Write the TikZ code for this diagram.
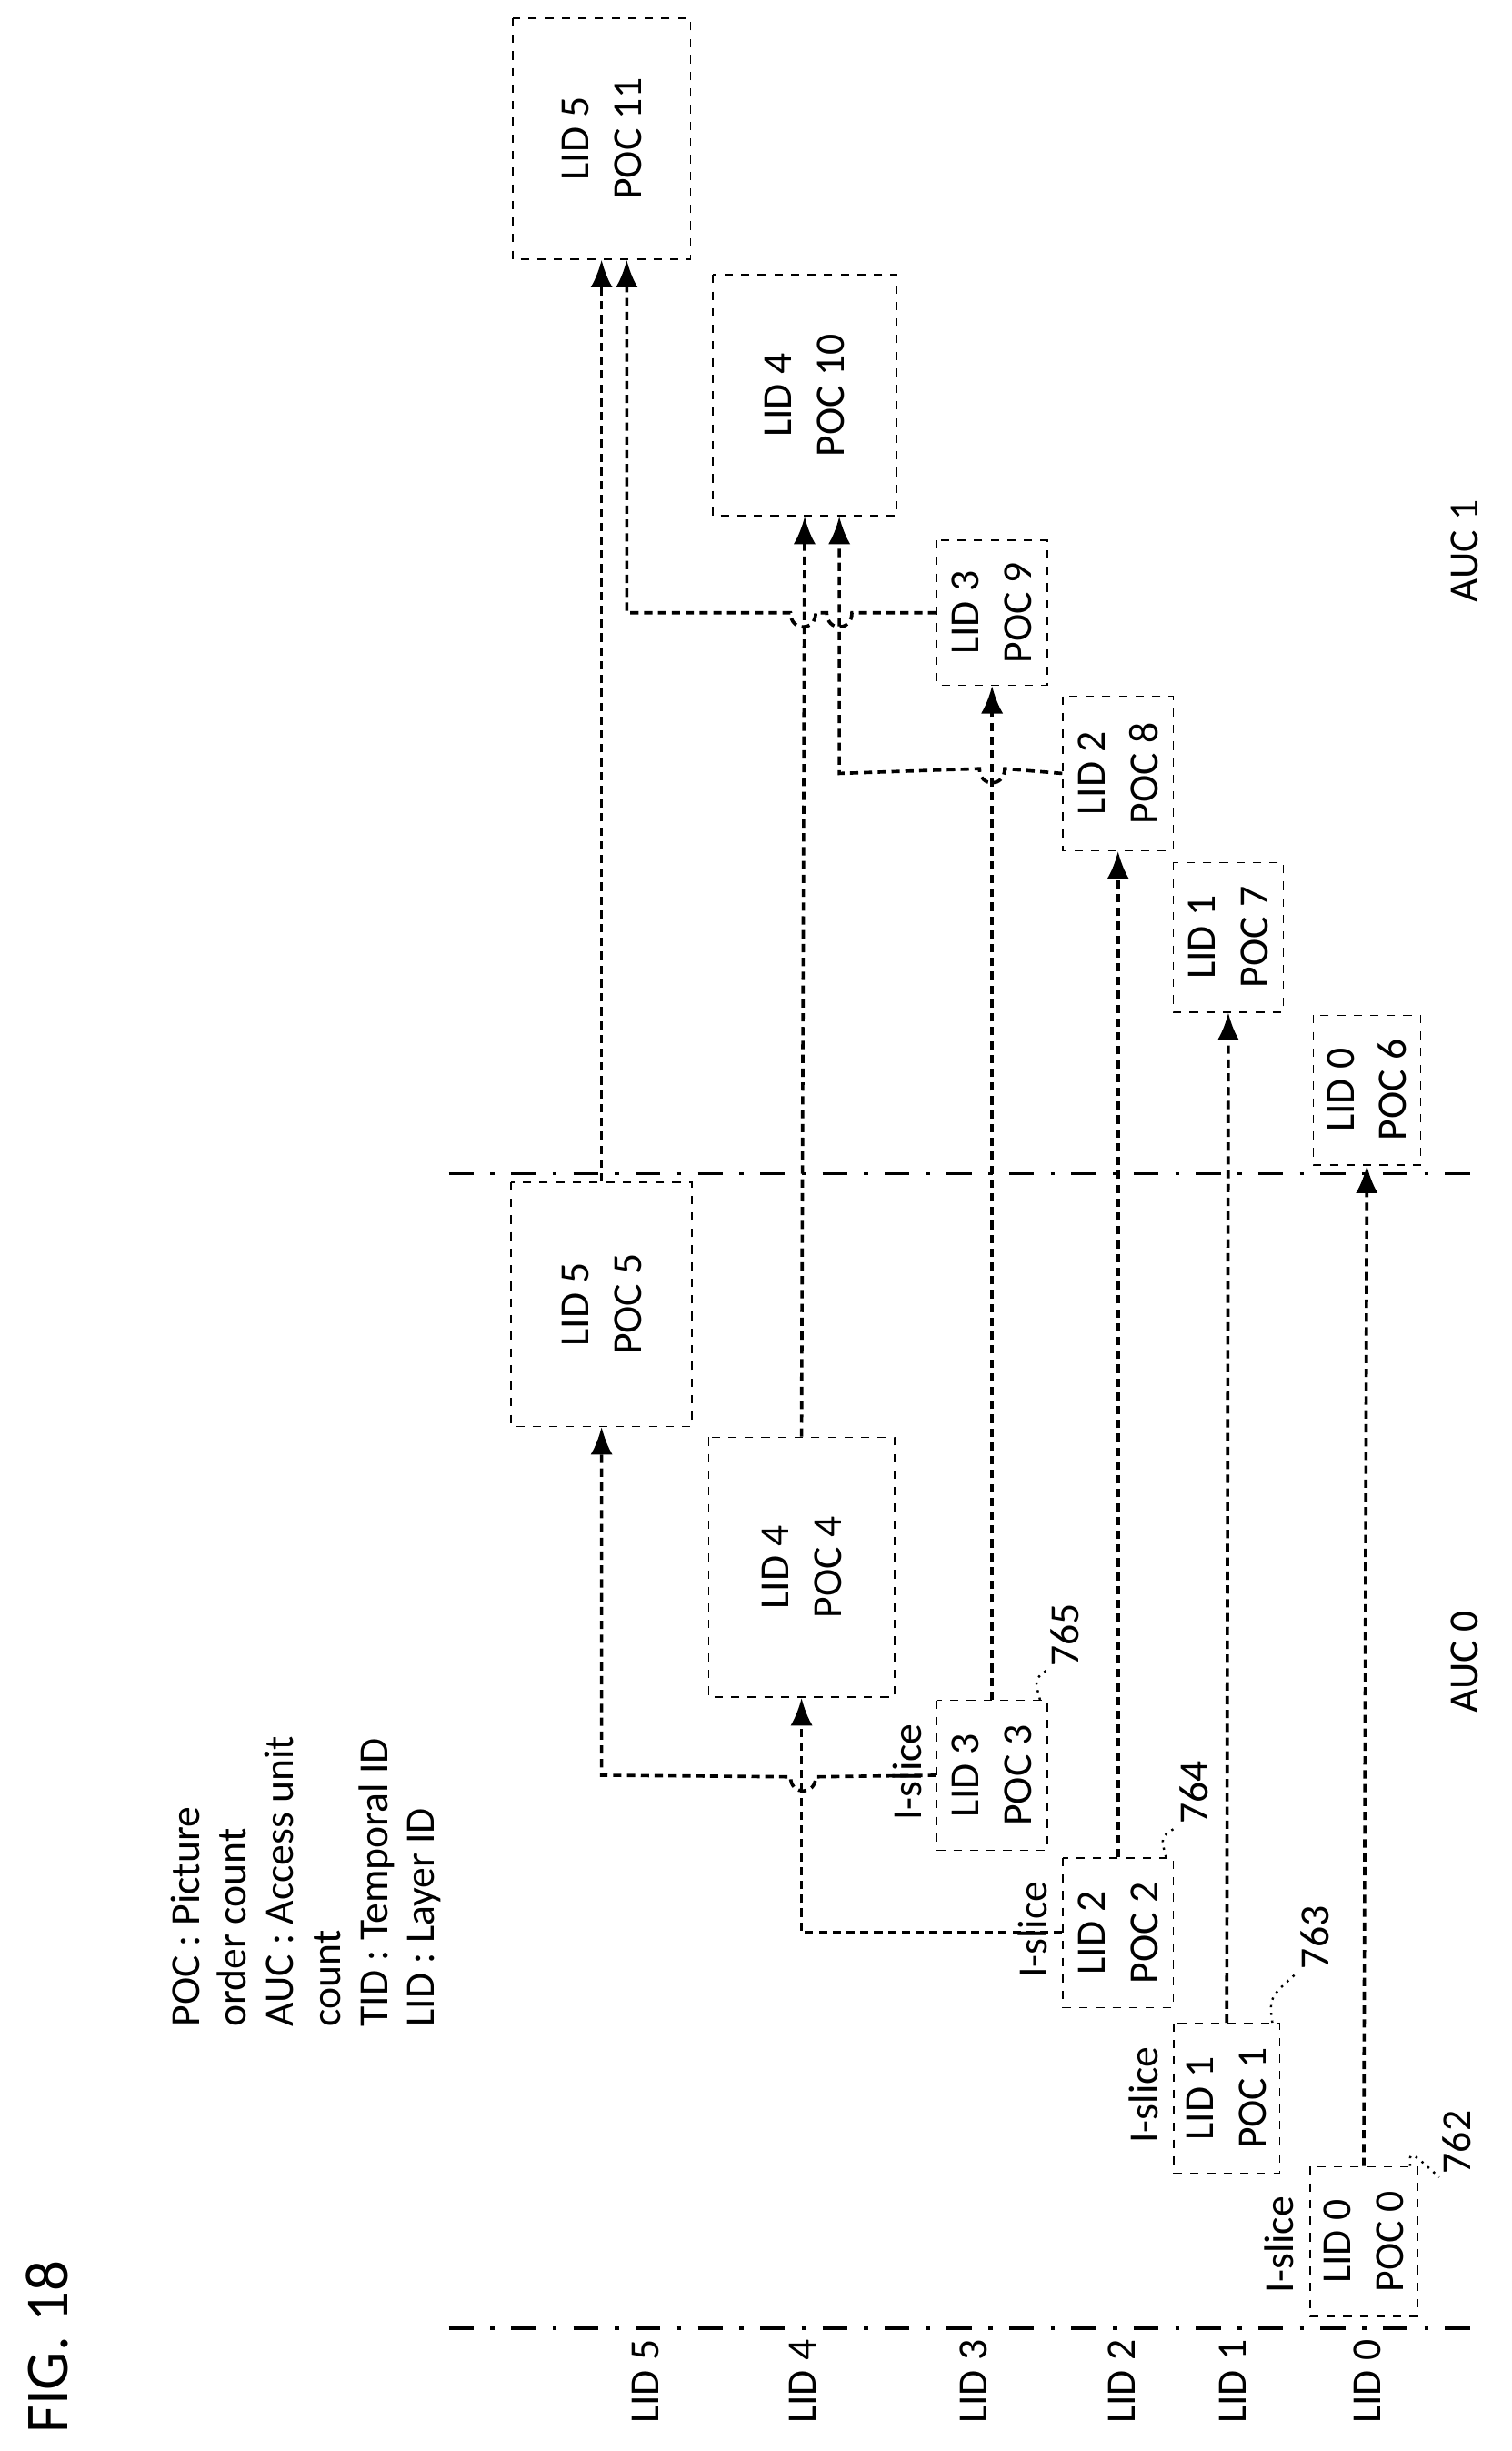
\documentclass[tikz,border=0pt]{standalone}
\usepackage{fontspec}
\setmainfont{Carlito}
\usetikzlibrary{arrows.meta,calc}
\begin{document}
\begin{tikzpicture}[x=0.2mm,y=0.2mm,
  box/.style={draw,dashed,line width=0.5pt,rotate=90,align=center,inner sep=0pt,font=\fontsize{15}{19}\selectfont},
  sz/.style 2 args={minimum width=#1*0.2mm,minimum height=#2*0.2mm},
  lbl/.style={rotate=90,font=\fontsize{15}{17}\selectfont,inner sep=1pt},
  conn/.style={line width=1.2pt,densely dashed,-{Latex[length=3.5mm,width=2.8mm]}},
  sep/.style={line width=1.2pt,dash pattern=on 9pt off 6pt on 1.5pt off 6pt},
  lead/.style={dotted,line width=0.8pt}]
\useasboundingbox (0,0) rectangle (960,-1556);
\node[box,sz={95}{68}] (p0) at (866,-1423) {LID 0\\POC 0};
\node[box,sz={95}{67}] (p1) at (779,-1332) {LID 1\\POC 1};
\node[box,sz={95}{70}] (p2) at (710,-1227) {LID 2\\POC 2};
\node[box,sz={95}{70}] (p3) at (630,-1127) {LID 3\\POC 3};
\node[box,sz={165}{118}] (p4) at (509,-995) {LID 4\\POC 4};
\node[box,sz={155}{115}] (p5) at (382,-828) {LID 5\\POC 5};
\node[box,sz={95}{68}] (p6) at (868,-692) {LID 0\\POC 6};
\node[box,sz={95}{70}] (p7) at (780,-595) {LID 1\\POC 7};
\node[box,sz={98}{70}] (p8) at (710,-491) {LID 2\\POC 8};
\node[box,sz={92}{70}] (p9) at (630,-389) {LID 3\\POC 9};
\node[box,sz={153}{117}] (p10) at (511,-251) {LID 4\\POC 10};
\node[box,sz={153}{113}] (p11) at (382,-88) {LID 5\\POC 11};
% separators
\draw[sep] (285,-1478) -- (935,-1478);
\draw[sep] (285,-745) -- (935,-745);
% layer labels
\foreach \x/\t in {410/5,510/4,618/3,712/2,783/1,868/0}
  \node[lbl] (l\t) at (\x,-1512) {LID \t};
% vertical connectors
\draw[conn] (p0.east) -- (p6.west);
\draw[conn] (p1.east) -- (p7.west);
\draw[conn] (p2.east) -- (p8.west);
\draw[conn] (p3.east) -- (p9.west);
\draw[conn] (p4.east) -- (p10.west);
\draw[conn] (p5.east) -- (p11.west);
% inter-layer connectors
\draw[conn] (p2.north) -- (p2.north -| p4.west) -- (p4.west);
\draw[conn] (p3.north) -- (518,-1128) .. controls (518,-1140) and (502,-1140) .. (502,-1128) -- (p3.north -| p5.west) -- (p5.west);
\coordinate (e10) at ([xshift=4.4mm]p10.west);
\draw[conn] (p8.north) -- (638,-488) .. controls (638,-500) and (622,-500) .. (622,-488) -- (e10 |- p8.north) -- (e10);
\coordinate (e11) at ([xshift=3.2mm]p11.west);
\draw[conn] (p9.north) -- (541,-389) .. controls (541,-401) and (525,-401) .. (525,-389) -- (518,-389) .. controls (518,-401) and (502,-401) .. (502,-389) -- (e11 |- p9.north) -- (e11);
% I-slice labels
\node[lbl] (i0) at (812,-1425) {I-slice};
\node[lbl] (i1) at (726,-1330) {I-slice};
\node[lbl] (i2) at (656,-1225) {I-slice};
\node[lbl] (i3) at (576,-1125) {I-slice};
% reference numerals
\node[lbl] (r762) at (925,-1360) {762};
\node[lbl] (r763) at (835,-1230) {763};
\node[lbl] (r764) at (758,-1138) {764};
\node[lbl] (r765) at (676,-1038) {765};
\draw[lead] ([xshift=-1mm]p0.south east) .. controls (895,-1365) .. (r762.north west);
\draw[lead] ([xshift=-1mm]p1.south east) .. controls (806,-1268) .. (r763.north west);
\draw[lead] ([xshift=-1mm]p2.south east) .. controls (737,-1166) .. (r764.north west);
\draw[lead] ([xshift=-1mm]p3.south east) .. controls (657,-1066) .. (r765.north west);
% AUC labels
\node[lbl] (a0) at (930,-1055) {AUC 0};
\node[lbl] (a1) at (930,-350) {AUC 1};
% legend
\node[rotate=90,anchor=north west,align=left,inner sep=0pt,font=\fontsize{15}{17}\selectfont] (leg) at (108,-1287)
 {POC : Picture\\order count\\AUC : Access unit\\count\\TID : Temporal ID\\LID : Layer ID};
\node[rotate=90,font=\fontsize{22}{24}\selectfont] (fig) at (30,-1490) {FIG. 18};
\end{tikzpicture}
\end{document}
